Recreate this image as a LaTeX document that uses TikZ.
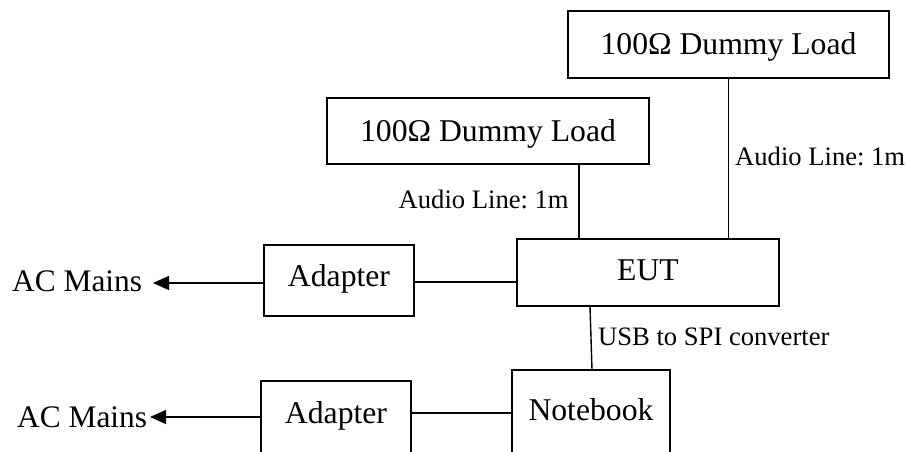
\documentclass[tikz,border=0pt]{standalone}
\usepackage{fontspec}
\setmainfont{Liberation Serif}
\frenchspacing
\usetikzlibrary{arrows.meta}
\tikzset{
  x=1bp,y=-1bp,
  bx/.style={draw=black,line width=1.3bp,anchor=base,inner xsep=0pt,inner ysep=0pt,align=center,font=\fontsize{31.8}{31.8}\selectfont},
  txt/.style={anchor=base west,inner sep=0pt,font=\fontsize{31.5}{31.5}\selectfont},
  small/.style={anchor=base west,inner sep=0pt,font=\fontsize{26.7}{26.7}\selectfont},
  wire/.style={line width=1.4bp},
  arr/.style={line width=1.3bp,-{Triangle[length=16bp,width=14bp]}}
}
\begin{document}
\begin{tikzpicture}
\useasboundingbox (0,0) rectangle (906,452);
\clip (0,0) rectangle (906,452);
\node[bx,minimum width=321bp,text height=44bp,text depth=23bp] (loadA) at (728.5,55) {100Ω Dummy Load};
\node[bx,minimum width=322bp,text height=43.7bp,text depth=22.3bp] (loadB) at (488,141.7) {100Ω Dummy Load};
\node[bx,minimum width=262bp,text height=42bp,text depth=25bp] (eut) at (648,281) {EUT};
\node[bx,minimum width=150bp,text height=42bp,text depth=29bp] (adA) at (339,287) {Adapter};
\node[bx,minimum width=150bp,text height=42bp,text depth=60bp] (adB) at (336,423) {Adapter};
\node[bx,minimum width=158bp,text height=50bp,text depth=60bp] (nb) at (591,420) {Notebook};
\node[txt] (acA) at (12,292) {AC Mains};
\node[txt] (acB) at (17,427) {AC Mains};
\node[small] (audA) at (735,165.7) {Audio Line: 1m};
\node[small] (audB) at (398.5,209) {Audio Line: 1m};
\node[small] (usb) at (598,346) {USB to SPI converter};
\coordinate (tipA) at (153,283);
\coordinate (tipB) at (150,417);
\draw[wire] (loadA.south -| 728.5,0) -- (eut.north -| 728.5,0);
\draw[wire] (loadB.south -| 579,0) -- (eut.north -| 579,0);
\draw[wire] (590,0 |- eut.south) -- (592,0 |- nb.north);
\draw[wire] (adA.east |- 0,282) -- (eut.west |- 0,282);
\draw[wire] (adB.east |- 0,413) -- (nb.west |- 0,413);
\draw[arr] (adA.west |- tipA) -- (tipA);
\draw[arr] (adB.west |- tipB) -- (tipB);
\end{tikzpicture}
\end{document}
